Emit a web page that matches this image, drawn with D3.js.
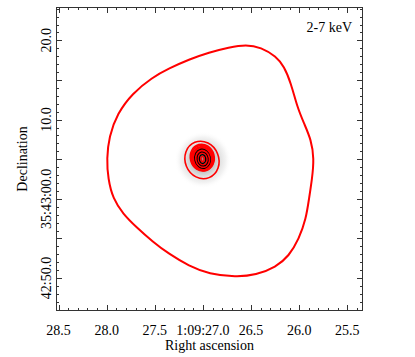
<!DOCTYPE html>
<html><head><meta charset="utf-8">
<script src="https://cdn.jsdelivr.net/npm/d3@7"></script>
<style>body{margin:0;background:#fff}svg{display:block}</style>
</head><body>
<script>
// Axis ticks (RA in seconds of 1:09:xx, Dec in arcsec offset from 35:43:00)
const raMajor = [28.5, 28.0, 27.5, 27.0, 26.5, 26.0, 25.5];
const raLabels = ["28.5", "28.0", "27.5", "1:09:27.0", "26.5", "26.0", "25.5"];
const decMajor = [20, 15, 10, 5, 0, -5, -10];
const decLabelVals = [20, 10, 0, -10];
const decLabels = ["20.0", "10.0", "35:43:00.0", "42:50.0"];
const bandLabel = "2-7 keV";

// Outer (lowest level) contour: [RA s, Dec arcsec]
const outerContour = [
  [28.000, 5.06], [27.976, 7.85], [27.890, 10.76], [27.735, 13.29], [27.530, 15.30],
  [27.353, 16.46], [27.145, 17.59], [26.937, 18.48], [26.729, 19.11], [26.552, 19.49],
  [26.396, 19.11], [26.240, 17.97], [26.157, 16.71], [26.084, 14.56], [26.022, 11.65],
  [25.949, 9.49], [25.876, 7.47], [25.845, 5.06], [25.866, 2.53], [25.898, 0.0],
  [25.929, -2.53], [26.002, -5.06], [26.106, -7.22], [26.241, -8.61], [26.449, -9.62],
  [26.656, -9.87], [26.937, -9.49], [27.145, -8.48], [27.353, -6.96], [27.519, -5.44],
  [27.695, -3.54], [27.830, -1.90], [27.935, 0.0], [27.986, 2.53]
];

// Source contours: centre RA, centre Dec, semi-axes (arcsec), tilt (deg), colour
const srcRa  = [27.010, 27.007, 27.006, 27.005, 27.005, 27.004, 27.004, 27.003, 27.003, 27.003, 27.003, 27.004, 27.004];
const srcDec = [4.90, 5.20, 5.15, 5.10, 5.08, 5.06, 5.05, 5.05, 5.04, 5.03, 5.03, 5.02, 5.02];
const srcRx  = [2.12, 1.50, 1.40, 1.30, 1.20, 1.10, 0.96, 0.86, 0.76, 0.66, 0.54, 0.38, 0.20];
const srcRy  = [2.40, 1.70, 1.60, 1.50, 1.40, 1.30, 1.20, 1.08, 0.97, 0.86, 0.72, 0.55, 0.33];
const srcTilt = [-22, -15, -15, -15, -15, -15, -12, -12, -10, -10, -8, -5, -5];
const srcColor = ["red", "red", "red", "red", "red", "red", "black", "red", "red", "black", "red", "black", "red"];

const FONT = "'Liberation Serif', 'Times New Roman', 'DejaVu Serif', serif";
const FS = 14;
const W = 415, H = 357;
const svg = d3.select("body").append("svg").attr("width", W).attr("height", H)
  .style("font-family", FONT);
const L = 56, R = 363, T = 7, B = 311;
const x = d3.scaleLinear().domain([28.5268, 25.3369]).range([L, R]);
const y = d3.scaleLinear().domain([24.21, -14.16]).range([T, B]);
const arcPx = Math.abs(y(1) - y(0));

const defs = svg.append("defs");
const grad = defs.append("radialGradient").attr("id", "halo");
[[0, "#8a8a8a", 1], [0.35, "#bdbdbd", 1], [0.6, "#e2e2e2", 1], [0.8, "#f3f3f3", 1], [1, "#ffffff", 0]]
  .forEach(s => grad.append("stop").attr("offset", s[0]).attr("stop-color", s[1]).attr("stop-opacity", s[2]));
defs.append("clipPath").attr("id", "clip").append("rect").attr("x", L).attr("y", T).attr("width", R - L).attr("height", B - T);

const plot = svg.append("g").attr("clip-path", "url(#clip)");
plot.append("ellipse")
  .attr("cx", x(srcRa[0]) + 1).attr("cy", y(srcDec[0]))
  .attr("rx", 3.6 * arcPx).attr("ry", 3.6 * arcPx)
  .attr("fill", "url(#halo)");

const line = d3.line().x(d => x(d[0])).y(d => y(d[1])).curve(d3.curveBasisClosed);
plot.append("path").attr("d", line(outerContour))
  .attr("fill", "none").attr("stroke", "#ff0000").attr("stroke-width", 2);

srcRa.forEach((ra, i) => {
  const cx = x(ra), cy = y(srcDec[i]);
  plot.append("ellipse")
    .attr("cx", cx).attr("cy", cy)
    .attr("rx", srcRx[i] * arcPx).attr("ry", srcRy[i] * arcPx)
    .attr("transform", `rotate(${srcTilt[i]},${cx},${cy})`)
    .attr("fill", "none")
    .attr("stroke", srcColor[i] === "red" ? "#ff0000" : "#000")
    .attr("stroke-width", 1.6);
});

// Frame
svg.append("rect").attr("x", L + 0.5).attr("y", T + 0.5).attr("width", R - L - 1).attr("height", B - T - 1)
  .attr("fill", "none").attr("stroke", "#333").attr("stroke-width", 1);

// Ticks
const raMinor = d3.range(285, 253, -1).map(v => v / 10);
const decMinor = d3.range(24, -15, -1);
const tk = svg.append("g").attr("stroke", "#333").attr("stroke-width", 1);
function hTick(v, len) {
  const px = Math.round(x(v)) + 0.5;
  tk.append("line").attr("x1", px).attr("x2", px).attr("y1", B).attr("y2", B - len);
  tk.append("line").attr("x1", px).attr("x2", px).attr("y1", T).attr("y2", T + len);
}
function vTick(v, len) {
  const py = Math.round(y(v)) + 0.5;
  tk.append("line").attr("y1", py).attr("y2", py).attr("x1", L).attr("x2", L + len);
  tk.append("line").attr("y1", py).attr("y2", py).attr("x1", R).attr("x2", R - len);
}
raMinor.forEach(v => hTick(v, 3));
raMajor.forEach(v => hTick(v, 6));
decMinor.forEach(v => vTick(v, 3));
decMajor.forEach(v => vTick(v, 6));

function txt(sel) {
  return sel.style("font-family", FONT).attr("font-size", FS).attr("fill", "#000");
}
// Tick labels
raMajor.forEach((v, i) => {
  txt(svg.append("text")).attr("x", x(v)).attr("y", 335).attr("text-anchor", "middle").text(raLabels[i]);
});
decLabelVals.forEach((v, i) => {
  txt(svg.append("text")).attr("transform", `translate(50.5,${y(v)}) rotate(-90)`)
    .attr("text-anchor", "middle").text(decLabels[i]);
});

txt(svg.append("text")).attr("x", (L + R) / 2).attr("y", 349.5).attr("text-anchor", "middle").text("Right ascension");
txt(svg.append("text")).attr("transform", `translate(27,${(T + B) / 2}) rotate(-90)`)
  .attr("text-anchor", "middle").text("Declination");
txt(svg.append("text")).attr("x", 352).attr("y", 32).attr("text-anchor", "end").text(bandLabel);
</script>
</body></html>
